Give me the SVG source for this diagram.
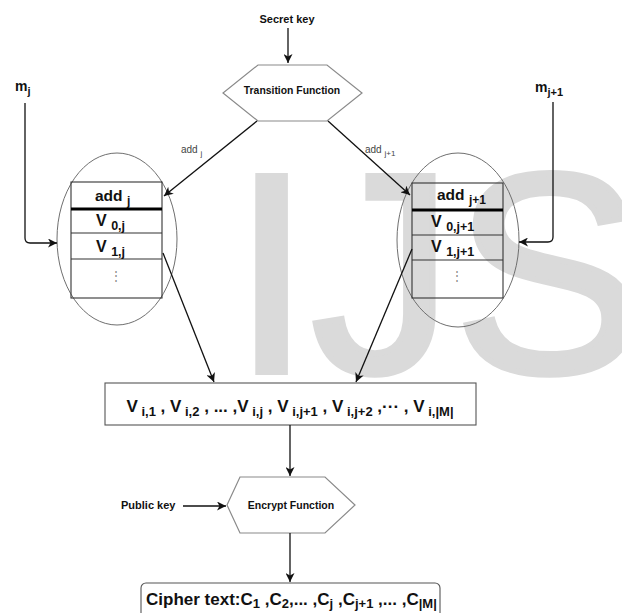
<svg xmlns="http://www.w3.org/2000/svg" width="622" height="613" viewBox="0 0 622 613">
<style>
text{font-family:"Liberation Sans",Arial,sans-serif;}
.b{font-weight:bold;fill:#111;}
.hex{fill:none;stroke:#8a8a8a;stroke-width:1.2;}
.ell{fill:none;stroke:#6f6f6f;stroke-width:1;}
.tbl{fill:none;stroke:#333;stroke-width:1.1;}
.box{fill:none;stroke:#555;stroke-width:1.1;}
.c{fill:none;stroke:#111;stroke-width:1.3;marker-end:url(#ah);}
.lbl{font-size:10px;fill:#444;}
.dots{font-size:12px;fill:#888;}
.wm{font-size:285px;fill:#dadada;stroke:#dadada;stroke-width:6;}
</style>
<defs>
<marker id="ah" markerUnits="userSpaceOnUse" markerWidth="10" markerHeight="9" refX="9" refY="4.5" orient="auto">
<path d="M0,0 L9,4.5 L0,9 L2.5,4.5 z" fill="#111"/>
</marker>
</defs>
<text class="wm" x="232" y="372">IJS</text>

<g id="secret-key"><text class="b" x="287" y="23" font-size="11" text-anchor="middle">Secret key</text></g>
<g id="transition">
<polygon class="hex" points="258,65 327,65 362,93 327,121 258,121 223,93"/>
<text class="b" x="292" y="94" font-size="10.4" text-anchor="middle">Transition Function</text>
</g>
<g id="mj"><text class="b" x="15" y="91" font-size="14">m<tspan font-size="11" dy="4">j</tspan></text></g>
<g id="mj1"><text class="b" x="535" y="92" font-size="14">m<tspan font-size="11" dy="4">j+1</tspan></text></g>

<g id="node-left">
<ellipse class="ell" cx="117" cy="239" rx="60" ry="86"/>
<rect class="tbl" x="71" y="182" width="91" height="116"/>
<line x1="71" y1="209" x2="162" y2="209" stroke="#000" stroke-width="3"/>
<line class="tbl" x1="71" y1="233" x2="162" y2="233"/>
<line class="tbl" x1="71" y1="259" x2="162" y2="259"/>
<text class="b" x="95" y="201" font-size="15.5">add <tspan font-size="12" dy="4">j</tspan></text>
<text class="b" x="96" y="226" font-size="16">V <tspan font-size="12.5" dy="4">0,j</tspan></text>
<text class="b" x="96" y="252" font-size="16">V <tspan font-size="12.5" dy="4">1,j</tspan></text>
<text class="dots" x="116" y="280" text-anchor="middle">⋮</text>
</g>

<g id="node-right">
<ellipse class="ell" cx="458" cy="240" rx="61" ry="87"/>
<rect class="tbl" x="412" y="183" width="91" height="115"/>
<line x1="412" y1="210" x2="503" y2="210" stroke="#000" stroke-width="3"/>
<line class="tbl" x1="412" y1="235" x2="503" y2="235"/>
<line class="tbl" x1="412" y1="260" x2="503" y2="260"/>
<text class="b" x="437" y="200" font-size="15.5">add <tspan font-size="12" dy="4">j+1</tspan></text>
<text class="b" x="431" y="227" font-size="16">V <tspan font-size="12.5" dy="4">0,j+1</tspan></text>
<text class="b" x="431" y="252" font-size="16">V <tspan font-size="12.5" dy="4">1,j+1</tspan></text>
<text class="dots" x="457" y="280" text-anchor="middle">⋮</text>
</g>

<g id="v-box">
<rect class="box" x="105" y="383" width="371" height="42"/>
<text class="b" x="290" y="412" font-size="17" text-anchor="middle">V<tspan font-size="13" dy="4"> i,1</tspan><tspan dy="-4"> , V</tspan><tspan font-size="13" dy="4"> i,2</tspan><tspan dy="-4"> , ... ,V</tspan><tspan font-size="13" dy="4"> i,j</tspan><tspan dy="-4"> , V</tspan><tspan font-size="13" dy="4"> i,j+1</tspan><tspan dy="-4"> , V</tspan><tspan font-size="13" dy="4"> i,j+2</tspan><tspan dy="-4"> ,··· , V</tspan><tspan font-size="13" dy="4"> i,|M|</tspan></text>
</g>

<g id="encrypt">
<polygon class="hex" points="240,477 325,477 355,505 325,533 240,533 227,505"/>
<text class="b" x="291" y="509" font-size="10.5" text-anchor="middle">Encrypt Function</text>
</g>
<g id="public-key"><text class="b" x="121" y="509" font-size="11">Public key</text></g>

<g id="cipher">
<rect class="box" x="141" y="583" width="299" height="45" rx="5"/>
<text class="b" x="146" y="605" font-size="17">Cipher text:C<tspan font-size="13" dy="3">1</tspan><tspan dy="-3"> ,C</tspan><tspan font-size="13" dy="3">2</tspan><tspan dy="-3">,... ,C</tspan><tspan font-size="13" dy="3">j</tspan><tspan dy="-3"> ,C</tspan><tspan font-size="13" dy="3">j+1</tspan><tspan dy="-3"> ,... ,C</tspan><tspan font-size="13" dy="3">|M|</tspan></text>
</g>

<g id="labels">
<text class="lbl" x="181" y="153">add <tspan font-size="8" dy="3">j</tspan></text>
<text class="lbl" x="365" y="153">add <tspan font-size="8" dy="3">j+1</tspan></text>
</g>

<g id="connectors">
<path class="c" d="M288,28 V63"/>
<path class="c" d="M257,121 L164,196"/>
<path class="c" d="M328,121 L410,195"/>
<path class="c" d="M25,103 V238 Q25,243 30,243 H57"/>
<path class="c" d="M553,102 V237 Q553,242 548,242 H519"/>
<path class="c" d="M163,253 L214,382"/>
<path class="c" d="M412,249 L356,382"/>
<path class="c" d="M290,425 V476"/>
<path class="c" d="M183,506 H226"/>
<path class="c" d="M290,533 V582"/>
</g>
</svg>
